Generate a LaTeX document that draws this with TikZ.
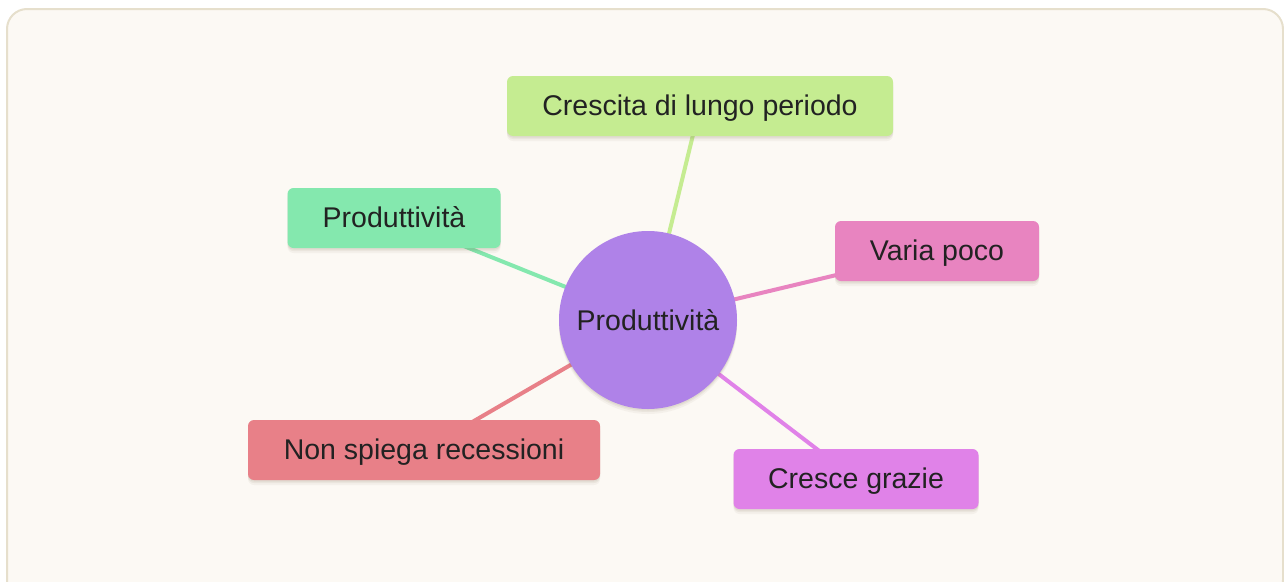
\documentclass[tikz,border=0pt]{standalone}
\usepackage{fontspec}
\setmainfont{Liberation Sans}
\definecolor{bgfill}{HTML}{FCF9F4}
\definecolor{bgline}{HTML}{E6DFCC}
\definecolor{ctr}{HTML}{AF82E8}
\definecolor{cgreen}{HTML}{C5EC91}
\definecolor{cmint}{HTML}{84E8AE}
\definecolor{cpink}{HTML}{E884C0}
\definecolor{cred}{HTML}{E88088}
\definecolor{cviolet}{HTML}{E082E8}
\definecolor{txt}{HTML}{222222}
\definecolor{shade}{HTML}{6B5A3A}
\begin{document}
\begin{tikzpicture}[x=1pt,y=1pt,
  softshadow/.style={
    preaction={fill=shade, fill opacity=0.05, transform canvas={yshift=-5pt}},
    preaction={fill=shade, fill opacity=0.07, transform canvas={yshift=-3pt}},
    preaction={fill=shade, fill opacity=0.08, transform canvas={yshift=-1.5pt}}},
  leaf/.style={rounded corners=6pt, minimum height=60pt, inner sep=0pt, text=txt,
    text height=22pt, text depth=3.3pt,
    font=\fontsize{28.5}{32}\selectfont, softshadow},
  hub/.style={circle, minimum size=178pt, inner sep=0pt, fill=ctr, text=txt,
    font=\fontsize{28.5}{32}\selectfont, softshadow},
  link/.style={line width=4pt}]
\useasboundingbox (0,0) rectangle (1284,-581);
\draw[fill=bgfill, draw=bgline, line width=2pt, rounded corners=20pt] (7,-9) rectangle (1283,-600);
\coordinate (cc) at (648,-320);
\coordinate (pg) at (700,-106);
\coordinate (pm) at (394,-218);
\coordinate (pp) at (937,-251);
\coordinate (pr) at (424,-450);
\coordinate (pv) at (856,-479);
\draw[link, draw=cgreen] (cc) -- (pg);
\draw[link, draw=cmint] (cc) -- (pm);
\draw[link, draw=cpink] (cc) -- (pp);
\draw[link, draw=cred] (cc) -- (pr);
\draw[link, draw=cviolet] (cc) -- (pv);
\node[hub] (c) at (cc) {Produttività};
\node[leaf, fill=cgreen, minimum width=386pt] (g) at (pg) {Crescita di lungo periodo};
\node[leaf, fill=cmint, minimum width=213pt] (m) at (pm) {Produttività};
\node[leaf, fill=cpink, minimum width=204pt] (p) at (pp) {Varia poco};
\node[leaf, fill=cred, minimum width=352pt] (r) at (pr) {Non spiega recessioni};
\node[leaf, fill=cviolet, minimum width=245pt] (v) at (pv) {Cresce grazie};
\end{tikzpicture}
\end{document}
